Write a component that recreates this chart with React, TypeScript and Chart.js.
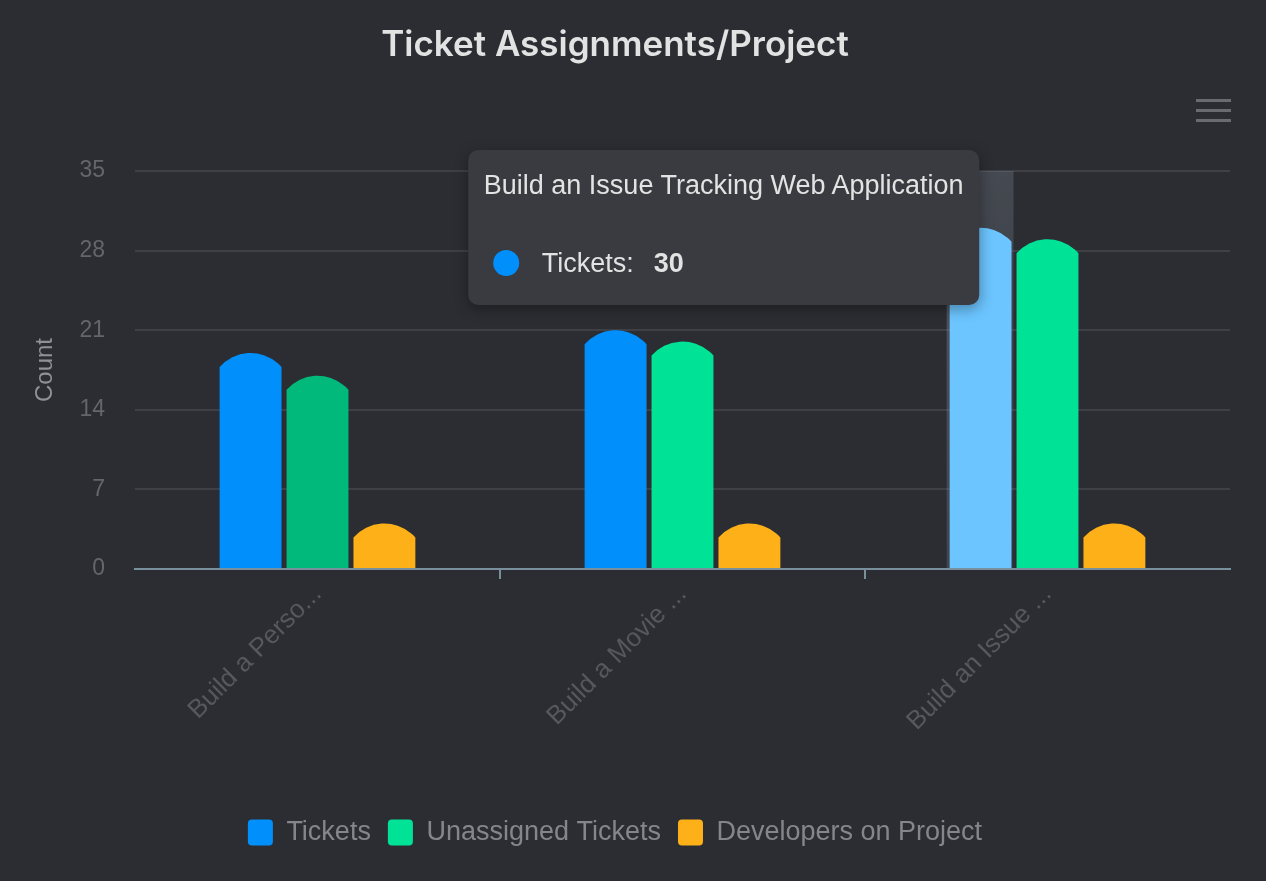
import React, { useEffect, useRef } from "react";
import { Chart, registerables } from "chart.js";

Chart.register(...registerables);

const projects = [
  "Build a Personal Portfolio Website",
  "Build a Movie Database Application",
  "Build an Issue Tracking Web Application",
];
const xTickLabels = ["Build a Perso...", "Build a Movie ...", "Build an Issue ..."];
const tickets = [19, 21, 30];
const unassignedTickets = [17, 20, 29];
const developersOnProject = [4, 4, 4];
const yTickValues = [0, 7, 14, 21, 28, 35];
const seriesNames = ["Tickets", "Unassigned Tickets", "Developers on Project"];
const seriesColors = ["#008ffb", "#00e396", "#feb019"];
const ticketsBarColors = ["#008ffb", "#008ffb", "#6cc5ff"];
const unassignedBarColors = ["#00b97b", "#00e396", "#00e396"];
const developerBarColors = ["#feb019", "#feb019", "#feb019"];
const activePoint = { datasetIndex: 0, index: 2 };

const BG = "#2b2d32";
const SANS = "'Liberation Sans', Arial, Helvetica, sans-serif";

const arcBarsPlugin = {
  id: "arcBars",
  beforeDatasetsDraw(chart: any) {
    const meta = chart.getDatasetMeta(activePoint.datasetIndex);
    const el = meta.data[activePoint.index];
    if (!el) return;
    const { top, bottom } = chart.chartArea;
    const ctx = chart.ctx as CanvasRenderingContext2D;
    const g = ctx.createLinearGradient(0, top, 0, bottom);
    g.addColorStop(0, "rgba(130,140,155,0.30)");
    g.addColorStop(1, "rgba(130,140,155,0.08)");
    ctx.save();
    ctx.fillStyle = g;
    ctx.fillRect(el.x - el.width / 2 - 3, top, el.width + 5, bottom - top);
    ctx.fillStyle = "rgba(140,150,165,0.18)";
    ctx.fillRect(el.x - el.width / 2 - 3, top, 3, bottom - top);
    ctx.restore();
  },
  beforeDatasetDraw(chart: any, args: any) {
    const ctx = chart.ctx as CanvasRenderingContext2D;
    const meta = args.meta;
    ctx.save();
    meta.data.forEach((el: any) => {
      const { x, y, base, width } = el.getProps(["x", "y", "base", "width"], true);
      const left = x - width / 2;
      const right = x + width / 2;
      const s = Math.min(14, Math.max(0, base - y));
      ctx.fillStyle = el.options.backgroundColor;
      ctx.beginPath();
      ctx.moveTo(left, base);
      if (s > 0.5) {
        const R = (width * width) / 4 / (2 * s) + s / 2;
        const half = Math.asin(Math.min(1, width / 2 / R));
        ctx.lineTo(left, y + s);
        ctx.arc(x, y + R, R, -Math.PI / 2 - half, -Math.PI / 2 + half, false);
      } else {
        ctx.lineTo(left, y);
        ctx.lineTo(right, y);
      }
      ctx.lineTo(right, base);
      ctx.closePath();
      ctx.fill();
    });
    ctx.restore();
    return false;
  },
};

export default function App() {
  const canvasRef = useRef<HTMLCanvasElement>(null);
  const tipRef = useRef<HTMLDivElement>(null);

  useEffect(() => {
    const canvas = canvasRef.current!;
    const tipEl = tipRef.current!;

    const external = (context: any) => {
      const { chart, tooltip } = context;
      if (!tooltip || tooltip.opacity === 0) {
        tipEl.style.opacity = "0";
        return;
      }
      const dp = tooltip.dataPoints && tooltip.dataPoints[0];
      if (!dp) return;
      tipEl.innerHTML = "";
      const title = document.createElement("div");
      title.textContent = projects[dp.dataIndex];
      title.style.cssText = "padding-top:20px;line-height:30px;height:30px;white-space:nowrap;";
      const row = document.createElement("div");
      row.style.cssText =
        "display:flex;align-items:center;margin-top:48px;height:30px;padding-bottom:27px;";
      const dot = document.createElement("span");
      dot.style.cssText = `display:inline-block;width:26px;height:26px;border-radius:50%;margin-left:9px;margin-right:23px;background:${seriesColors[dp.datasetIndex]};`;
      const lab = document.createElement("span");
      lab.textContent = seriesNames[dp.datasetIndex] + ":";
      const val = document.createElement("span");
      val.textContent = String(dp.raw);
      val.style.cssText = "font-weight:bold;margin-left:20px;";
      row.appendChild(dot);
      row.appendChild(lab);
      row.appendChild(val);
      tipEl.appendChild(title);
      tipEl.appendChild(row);
      tipEl.style.opacity = "1";
      tipEl.style.left = tooltip.caretX - 1 + "px";
      tipEl.style.top = chart.chartArea.top - 21 + "px";
    };

    const chart = new Chart(canvas, {
      type: "bar",
      data: {
        labels: projects,
        datasets: [
          { label: seriesNames[0], data: tickets, backgroundColor: ticketsBarColors, borderWidth: 0 },
          { label: seriesNames[1], data: unassignedTickets, backgroundColor: unassignedBarColors, borderWidth: 0 },
          { label: seriesNames[2], data: developersOnProject, backgroundColor: developerBarColors, borderWidth: 0 },
        ],
      },
      options: {
        responsive: false,
        animation: false,
        events: [],
        categoryPercentage: 0.55,
        barPercentage: 0.925,
        layout: { padding: { left: 0, right: 36, top: 0, bottom: 25 } },
        scales: {
          x: {
            offset: true,
            afterFit: (scale: any) => {
              scale.paddingLeft = 0;
              scale.paddingRight = 0;
              scale.height += 65;
            },
            grid: {
              offset: true,
              drawOnChartArea: false,
              drawTicks: true,
              tickLength: 10,
              lineWidth: 2,
              color: (c: any) =>
                c.type !== "tick" || c.index === 0 ? "rgba(0,0,0,0)" : "#78909c",
            },
            border: { display: true, color: "#78909c", width: 2 },
            ticks: {
              autoSkip: false,
              maxRotation: 45,
              minRotation: 45,
              color: "#55585d",
              padding: 0,
              font: { family: SANS, size: 26 },
              callback: (_v: any, i: number) => xTickLabels[i],
            },
          },
          y: {
            min: 0,
            max: 35,
            afterBuildTicks: (axis: any) => {
              axis.ticks = yTickValues.map((v) => ({ value: v }));
            },
            afterFit: (scale: any) => {
              scale.width = 135;
            },
            grid: { color: "#3e4046", lineWidth: 2, drawTicks: false },
            border: { display: false },
            ticks: {
              color: "#63666b",
              padding: 30,
              font: { family: SANS, size: 23 },
            },
            title: {
              display: true,
              text: "Count",
              color: "#8e9196",
              font: { family: SANS, size: 24, weight: "normal" },
              padding: { top: 31, bottom: 20 },
            },
          },
        },
        plugins: {
          title: {
            display: true,
            text: "Ticket Assignments/Project",
            color: "#e2e2e2",
            font: { family: "Inter, 'Noto Sans', sans-serif", size: 35, weight: "600" },
            padding: { top: 24, bottom: 105 },
          },
          legend: {
            position: "bottom",
            labels: {
              boxWidth: 25,
              boxHeight: 26,
              useBorderRadius: true,
              borderRadius: 4,
              color: "#85868a",
              padding: 17,
              font: { family: SANS, size: 27 },
              generateLabels: (ch: any) => {
                const items = Chart.defaults.plugins.legend.labels.generateLabels(ch);
                return items.map((it: any, i: number) => ({
                  ...it,
                  fillStyle: seriesColors[i],
                  strokeStyle: seriesColors[i],
                  lineWidth: 0,
                }));
              },
            },
          },
          tooltip: {
            enabled: false,
            animation: false,
            external,
          },
        },
      },
      plugins: [arcBarsPlugin],
    } as any);

    chart.tooltip!.setActiveElements([activePoint], { x: 0, y: 0 });
    chart.draw();

    return () => {
      chart.destroy();
    };
  }, []);

  return (
    <div
      style={{
        position: "fixed",
        left: 0,
        top: 0,
        width: 1266,
        height: 881,
        background: BG,
        overflow: "hidden",
      }}
    >
      <canvas ref={canvasRef} width={1266} height={881} style={{ display: "block" }} />
      <div
        style={{ position: "absolute", left: 1196, top: 99, width: 35 }}
        aria-label="menu"
      >
        {[0, 1, 2].map((i) => (
          <div key={i} style={{ height: 3, background: "#6a6b70", marginBottom: 7 }} />
        ))}
      </div>
      <div
        ref={tipRef}
        style={{
          position: "absolute",
          opacity: 0,
          transform: "translateX(-100%)",
          background: "#3a3b40",
          color: "#e3e3e3",
          borderRadius: 10,
          padding: "0 16px",
          fontFamily: SANS,
          fontSize: 27,
          boxShadow: "0 4px 14px rgba(0,0,0,0.35)",
          pointerEvents: "none",
        }}
      />
    </div>
  );
}
